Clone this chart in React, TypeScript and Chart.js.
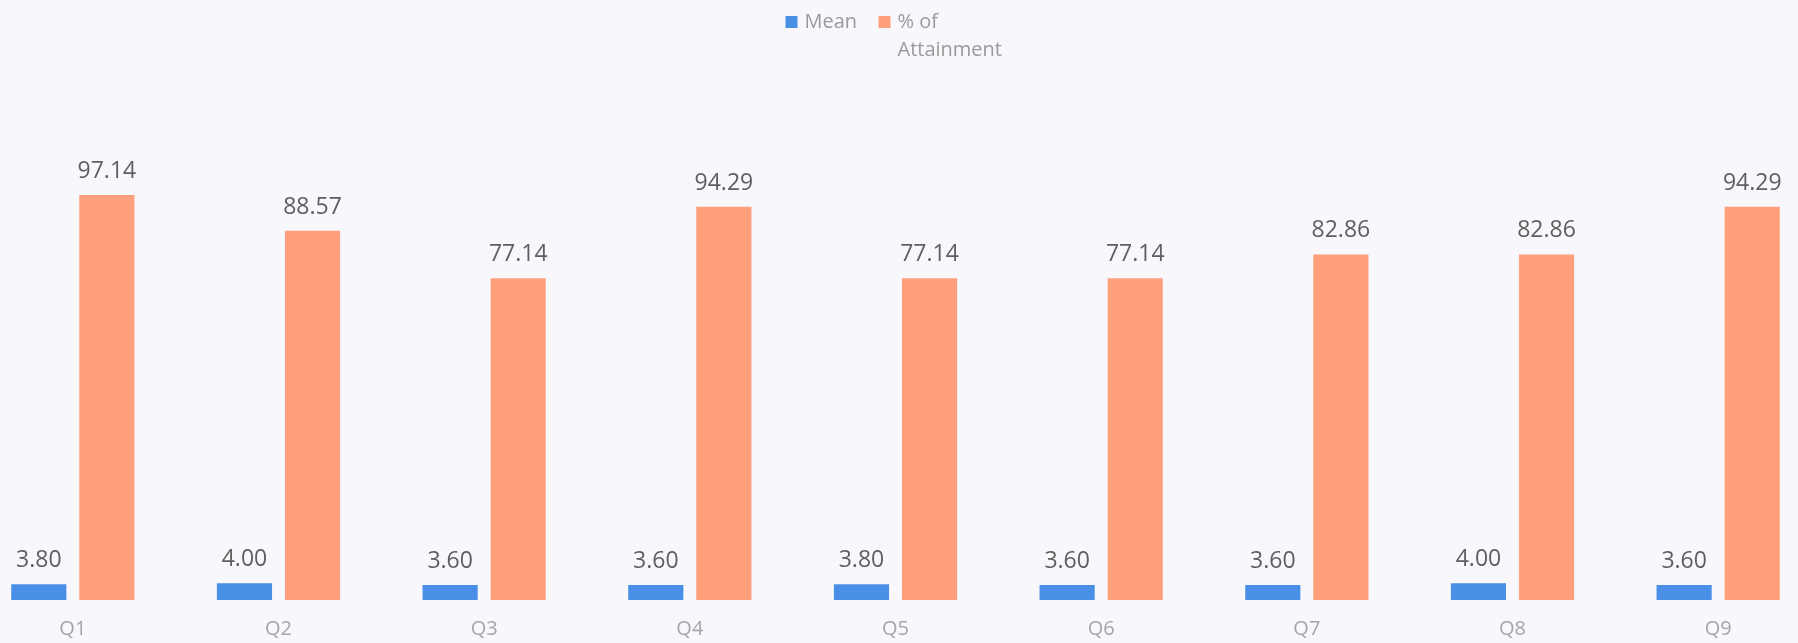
import React, { useEffect, useRef } from "react";
import { Chart, registerables } from "chart.js";

Chart.register(...registerables);

const categories = ["Q1", "Q2", "Q3", "Q4", "Q5", "Q6", "Q7", "Q8", "Q9"];
const meanValues = [3.8, 4.0, 3.6, 3.6, 3.8, 3.6, 3.6, 4.0, 3.6];
const attainmentValues = [97.14, 88.57, 77.14, 94.29, 77.14, 77.14, 82.86, 82.86, 94.29];
const seriesNames = ["Mean", ["% of", "Attainment"]];
const blue = "#4a8fe6";
const orange = "#ff9f7c";
const FONT = "'Open Sans', 'Noto Sans', sans-serif";

const valueLabels = {
  id: "valueLabels",
  afterDatasetsDraw(chart: any) {
    const ctx = chart.ctx;
    ctx.save();
    ctx.font = `23px ${FONT}`;
    ctx.fillStyle = "#5f5f5f";
    ctx.textAlign = "center";
    ctx.textBaseline = "alphabetic";
    chart.data.datasets.forEach((ds: any, di: number) => {
      const meta = chart.getDatasetMeta(di);
      meta.data.forEach((bar: any, i: number) => {
        ctx.fillText(Number(ds.data[i]).toFixed(2), bar.x, bar.y - 17);
      });
    });
    ctx.restore();
  },
};

const customLegend = {
  id: "customLegend",
  afterDraw(chart: any) {
    const ctx = chart.ctx;
    const cx = chart.width / 2;
    ctx.save();
    ctx.font = `20px ${FONT}`;
    ctx.textBaseline = "alphabetic";
    ctx.textAlign = "left";
    const colors = [blue, orange];
    const boxX = [cx - 110, cx - 17];
    chart.data.datasets.forEach((ds: any, di: number) => {
      ctx.fillStyle = colors[di];
      ctx.fillRect(boxX[di], 16, 12, 12);
      ctx.fillStyle = "#9a9a9a";
      const lines = Array.isArray(seriesNames[di]) ? (seriesNames[di] as string[]) : [seriesNames[di] as string];
      lines.forEach((ln, li) => {
        ctx.fillText(ln, boxX[di] + 19, 28 + li * 28);
      });
    });
    ctx.restore();
  },
};

export default function App() {
  const ref = useRef<HTMLCanvasElement>(null);
  useEffect(() => {
    if (!ref.current) return;
    const chart = new Chart(ref.current, {
      type: "bar",
      data: {
        labels: categories,
        datasets: [
          { label: "Mean", data: meanValues, backgroundColor: blue, categoryPercentage: 0.662, barPercentage: 0.81 },
          { label: "% of Attainment", data: attainmentValues, backgroundColor: orange, categoryPercentage: 0.662, barPercentage: 0.81 },
        ],
      },
      options: {
        animation: false,
        responsive: true,
        maintainAspectRatio: false,
        layout: { padding: { top: 183, left: 0, right: 0, bottom: 0 } },
        plugins: { legend: { display: false }, tooltip: { enabled: false } },
        scales: {
          x: {
            grid: { display: false, drawTicks: false },
            border: { display: false },
            ticks: { color: "#a6a6a6", font: { family: FONT, size: 20 }, padding: 17 },
            afterFit(scale: any) {
              scale.height = 43;
            },
          },
          y: { display: false, min: 0, max: 100 },
        },
      },
      plugins: [valueLabels, customLegend],
    });
    return () => chart.destroy();
  }, []);
  return (
    <div style={{ position: "fixed", left: 0, top: 0, width: 1798, height: 643, overflow: "hidden", background: "#f8f7fc" }}>
      <div style={{ position: "absolute", left: -30, top: 0, width: 1851, height: 643 }}>
        <canvas ref={ref} />
      </div>
    </div>
  );
}
